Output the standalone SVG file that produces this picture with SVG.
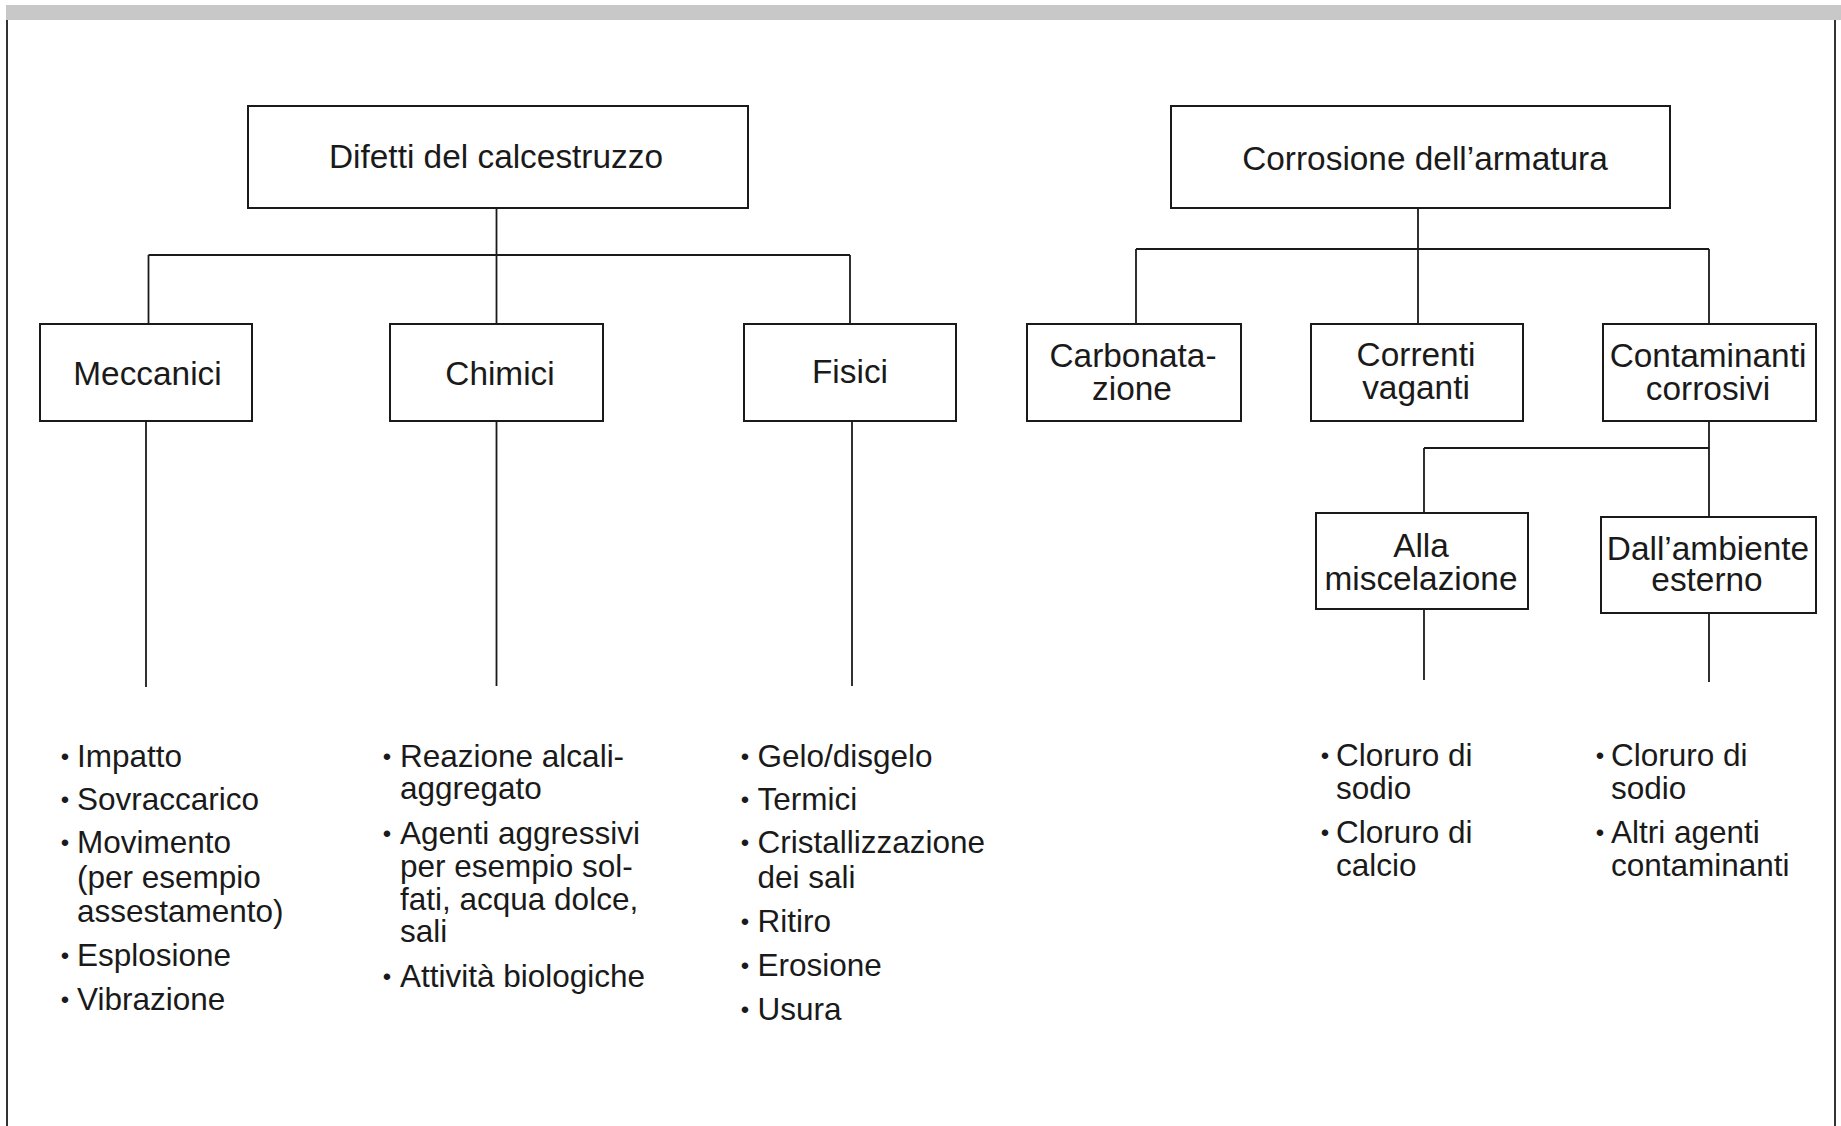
<svg xmlns="http://www.w3.org/2000/svg" width="1841" height="1126" viewBox="0 0 1841 1126">
<style>
.box{fill:#fff;stroke:#1a1a1a;stroke-width:2}
.ln{stroke:#1a1a1a;stroke-width:1.8;fill:none}
.bt{font-family:"Liberation Sans",Arial,sans-serif;font-size:33.4px;fill:#1a1a1a;text-anchor:middle}
.li{font-family:"Liberation Sans",Arial,sans-serif;font-size:31.5px;fill:#1a1a1a}
.bu{font-family:"Liberation Sans",Arial,sans-serif;font-size:24px;fill:#1a1a1a;text-anchor:middle}
</style>
<rect x="0" y="0" width="1841" height="1126" fill="#fff"/>
<rect x="6" y="5" width="1835" height="15" fill="#c8c8c8"/>
<line x1="7" y1="20" x2="7" y2="1126" stroke="#333" stroke-width="2"/>
<line x1="1835" y1="20" x2="1835" y2="1126" stroke="#333" stroke-width="2"/>

<g id="connectors">
<line class="ln" x1="496.5" y1="208" x2="496.5" y2="324"/>
<line class="ln" x1="148.5" y1="255" x2="850" y2="255"/>
<line class="ln" x1="148.5" y1="255" x2="148.5" y2="324"/>
<line class="ln" x1="850" y1="255" x2="850" y2="324"/>
<line class="ln" x1="146" y1="421" x2="146" y2="687"/>
<line class="ln" x1="496.5" y1="421" x2="496.5" y2="686"/>
<line class="ln" x1="852" y1="421" x2="852" y2="686"/>
<line class="ln" x1="1418" y1="208" x2="1418" y2="324"/>
<line class="ln" x1="1136" y1="249" x2="1709" y2="249"/>
<line class="ln" x1="1136" y1="249" x2="1136" y2="324"/>
<line class="ln" x1="1709" y1="249" x2="1709" y2="324"/>
<line class="ln" x1="1709" y1="421" x2="1709" y2="517"/>
<line class="ln" x1="1424" y1="448" x2="1709" y2="448"/>
<line class="ln" x1="1424" y1="448" x2="1424" y2="513"/>
<line class="ln" x1="1424" y1="609" x2="1424" y2="680"/>
<line class="ln" x1="1709" y1="613" x2="1709" y2="682"/>
</g>

<g id="difetti">
<rect class="box" x="248" y="106" width="500" height="102"/>
<text class="bt" x="496" y="168">Difetti del calcestruzzo</text>
</g>
<g id="corrosione">
<rect class="box" x="1171" y="106" width="499" height="102"/>
<text class="bt" x="1425" y="170">Corrosione dell’armatura</text>
</g>
<g id="meccanici">
<rect class="box" x="40" y="324" width="212" height="97"/>
<text class="bt" x="147.5" y="385">Meccanici</text>
</g>
<g id="chimici">
<rect class="box" x="390" y="324" width="213" height="97"/>
<text class="bt" x="500" y="385">Chimici</text>
</g>
<g id="fisici">
<rect class="box" x="744" y="324" width="212" height="97"/>
<text class="bt" x="850" y="383">Fisici</text>
</g>
<g id="carbonatazione">
<rect class="box" x="1027" y="324" width="214" height="97"/>
<text class="bt" x="1133" y="367">Carbonata-</text>
<text class="bt" x="1132" y="400">zione</text>
</g>
<g id="correnti">
<rect class="box" x="1311" y="324" width="212" height="97"/>
<text class="bt" x="1416" y="366">Correnti</text>
<text class="bt" x="1416" y="399">vaganti</text>
</g>
<g id="contaminanti">
<rect class="box" x="1603" y="324" width="213" height="97"/>
<text class="bt" x="1708" y="367">Contaminanti</text>
<text class="bt" x="1708" y="400">corrosivi</text>
</g>
<g id="alla">
<rect class="box" x="1316" y="513" width="212" height="96"/>
<text class="bt" x="1421" y="557">Alla</text>
<text class="bt" x="1421" y="590">miscelazione</text>
</g>
<g id="dallambiente">
<rect class="box" x="1601" y="517" width="215" height="96"/>
<text class="bt" x="1708" y="560">Dall’ambiente</text>
<text class="bt" x="1707" y="591">esterno</text>
</g>

<g id="list-meccanici">
<text class="bu" x="65" y="765">•</text><text class="li" x="77" y="767">Impatto</text>
<text class="bu" x="65" y="808">•</text><text class="li" x="77" y="810">Sovraccarico</text>
<text class="bu" x="65" y="851">•</text><text class="li" x="77" y="853">Movimento</text>
<text class="li" x="77" y="888">(per esempio</text>
<text class="li" x="77" y="922">assestamento)</text>
<text class="bu" x="65" y="964">•</text><text class="li" x="77" y="966">Esplosione</text>
<text class="bu" x="65" y="1008">•</text><text class="li" x="77" y="1010">Vibrazione</text>
</g>
<g id="list-chimici">
<text class="bu" x="387" y="765">•</text><text class="li" x="400" y="767">Reazione alcali-</text>
<text class="li" x="400" y="799">aggregato</text>
<text class="bu" x="387" y="842">•</text><text class="li" x="400" y="844">Agenti aggressivi</text>
<text class="li" x="400" y="877">per esempio sol-</text>
<text class="li" x="400" y="910">fati, acqua dolce,</text>
<text class="li" x="400" y="942">sali</text>
<text class="bu" x="387" y="985">•</text><text class="li" x="400" y="987">Attività biologiche</text>
</g>
<g id="list-fisici">
<text class="bu" x="745" y="765">•</text><text class="li" x="757.5" y="767">Gelo/disgelo</text>
<text class="bu" x="745" y="808">•</text><text class="li" x="757.5" y="810">Termici</text>
<text class="bu" x="745" y="851">•</text><text class="li" x="757.5" y="853">Cristallizzazione</text>
<text class="li" x="757.5" y="888">dei sali</text>
<text class="bu" x="745" y="930">•</text><text class="li" x="757.5" y="932">Ritiro</text>
<text class="bu" x="745" y="974">•</text><text class="li" x="757.5" y="976">Erosione</text>
<text class="bu" x="745" y="1018">•</text><text class="li" x="757.5" y="1020">Usura</text>
</g>
<g id="list-alla">
<text class="bu" x="1325" y="764">•</text><text class="li" x="1336" y="766">Cloruro di</text>
<text class="li" x="1336" y="799">sodio</text>
<text class="bu" x="1325" y="841">•</text><text class="li" x="1336" y="843">Cloruro di</text>
<text class="li" x="1336" y="876">calcio</text>
</g>
<g id="list-dall">
<text class="bu" x="1600" y="764">•</text><text class="li" x="1611" y="766">Cloruro di</text>
<text class="li" x="1611" y="799">sodio</text>
<text class="bu" x="1600" y="841">•</text><text class="li" x="1611" y="843">Altri agenti</text>
<text class="li" x="1611" y="876">contaminanti</text>
</g>
</svg>
